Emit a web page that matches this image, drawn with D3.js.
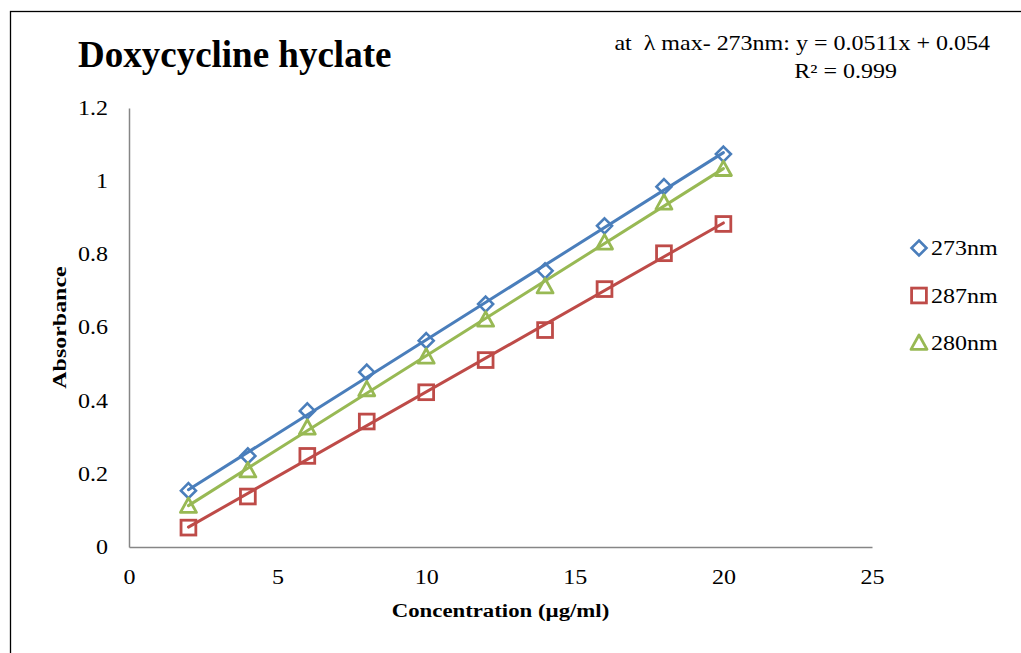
<!DOCTYPE html>
<html><head><meta charset="utf-8">
<script src="https://cdn.jsdelivr.net/npm/d3@7"></script>
<style>body{margin:0;background:#fff}svg{display:block}text{font-family:"Liberation Serif","Times New Roman",serif;fill:#000;white-space:pre}</style>
</head><body>
<script>
const concentrations = [2,4,6,8,10,12,14,16,18,20];
const abs273 = [0.154,0.249,0.372,0.478,0.564,0.664,0.755,0.878,0.985,1.074];
const abs287 = [0.053,0.138,0.249,0.343,0.423,0.511,0.593,0.705,0.803,0.883];
const abs280 = [0.112,0.209,0.326,0.431,0.520,0.621,0.712,0.832,0.941,1.033];
const seriesNames = ["273nm","287nm","280nm"];
const xTicks = [0,5,10,15,20,25];
const yTicks = [0,0.2,0.4,0.6,0.8,1,1.2];
const titleText = "Doxycycline hyclate";
const eqLine1 = "at  \u03bb max- 273nm: y = 0.0511x + 0.054";
const eqLine2 = "R\u00b2 = 0.999";

const series = [
  {name: seriesNames[0], values: abs273, color: "#4a7ebb", shape: "diamond"},
  {name: seriesNames[1], values: abs287, color: "#be4b48", shape: "square"},
  {name: seriesNames[2], values: abs280, color: "#98b954", shape: "triangle"}
];

const SX = 1.2; // horizontal text stretch
const W = 1021, H = 653;
const svg = d3.select("body").append("svg").attr("width", W).attr("height", H);
svg.append("rect").attr("x",10.5).attr("y",11.5).attr("width",W+20).attr("height",H+20)
  .attr("fill","#fff").attr("stroke","#000").attr("stroke-width",1.3);

const x = d3.scaleLinear().domain([0,25]).range([129,872]);
const y = d3.scaleLinear().domain([0,1.2]).range([547,108]);

function stretchText(sel){
  sel.each(function(){
    const t = d3.select(this);
    const tx = +t.attr("x") || 0, ty = +t.attr("y") || 0;
    t.attr("x",0).attr("y",0).attr("transform",`translate(${tx},${ty}) scale(${SX},1)`);
  });
}

// axes
const yAxis = svg.append("g").attr("transform","translate(129,0)")
  .call(d3.axisLeft(y).tickValues(yTicks).tickSize(0).tickPadding(21).tickFormat(d=>String(d)));
const xAxis = svg.append("g").attr("transform","translate(0,547)")
  .call(d3.axisBottom(x).tickValues(xTicks).tickSize(0).tickPadding(23).tickFormat(d=>String(d)));
[yAxis,xAxis].forEach(g=>{
  g.select(".domain").attr("stroke","#868686").attr("stroke-width",1.5);
  g.selectAll("text").attr("font-size",20).attr("font-family","Liberation Serif").attr("fill","#000");
  stretchText(g.selectAll("text"));
});
yAxis.selectAll("text").attr("dy","0.32em");
xAxis.selectAll("text").attr("dy","0.71em");

// regression lines
function fit(xs, ys){
  const n = xs.length, mx = d3.mean(xs), my = d3.mean(ys);
  let sxy=0,sxx=0;
  for(let i=0;i<n;i++){sxy+=(xs[i]-mx)*(ys[i]-my);sxx+=(xs[i]-mx)**2;}
  const b = sxy/sxx; return {b, a: my-b*mx};
}
const line = d3.line().x(d=>x(d[0])).y(d=>y(d[1]));
series.forEach(s=>{
  const f = fit(concentrations, s.values);
  const x0 = d3.min(concentrations), x1 = d3.max(concentrations);
  svg.append("path").attr("d", line([[x0,f.a+f.b*x0],[x1,f.a+f.b*x1]]))
    .attr("stroke", s.color).attr("stroke-width",3).attr("fill","none").attr("stroke-linecap","round");
});

function marker(g, shape, cx, cy, color){
  if(shape==="diamond"){
    const r=7.5;
    g.append("path").attr("d",`M${cx},${cy-r}L${cx+r},${cy}L${cx},${cy+r}L${cx-r},${cy}Z`)
      .attr("fill","none").attr("stroke",color).attr("stroke-width",2.6);
  } else if(shape==="square"){
    const r=7.4;
    g.append("rect").attr("x",cx-r).attr("y",cy-r).attr("width",2*r).attr("height",2*r)
      .attr("fill","none").attr("stroke",color).attr("stroke-width",2.8);
  } else {
    const r=8;
    g.append("path").attr("d",`M${cx},${cy-r}L${cx+r},${cy+r*0.8}L${cx-r},${cy+r*0.8}Z`)
      .attr("fill","none").attr("stroke",color).attr("stroke-width",2.8).attr("stroke-linejoin","round");
  }
}
series.forEach(s=>{
  const g = svg.append("g");
  concentrations.forEach((c,i)=>marker(g, s.shape, x(c), y(s.values[i]), s.color));
});

// titles
svg.append("text").attr("x",78).attr("y",67).attr("font-size",37).attr("font-weight","bold").text(titleText);
stretchText(svg.append("text").attr("x",990).attr("y",50).attr("text-anchor","end").attr("font-size",20).text(eqLine1));
stretchText(svg.append("text").attr("x",897).attr("y",78).attr("text-anchor","end").attr("font-size",20).text(eqLine2));
stretchText(svg.append("text").attr("x",(129+872)/2).attr("y",617).attr("text-anchor","middle").attr("font-size",19).attr("font-weight","bold").text("Concentration (\u00b5g/ml)"));
svg.append("text").attr("transform",`translate(66,327.5) rotate(-90) scale(${SX*1.05},1)`).attr("text-anchor","middle").attr("font-size",19).attr("font-weight","bold").text("Absorbance");

// legend
series.forEach((s,i)=>{
  const ly = 248 + i*47.5;
  const g = svg.append("g");
  marker(g, s.shape, 919, ly, s.color);
  stretchText(g.append("text").attr("x",931).attr("y",ly+7).attr("font-size",20).text(s.name));
});
</script>
</body></html>
